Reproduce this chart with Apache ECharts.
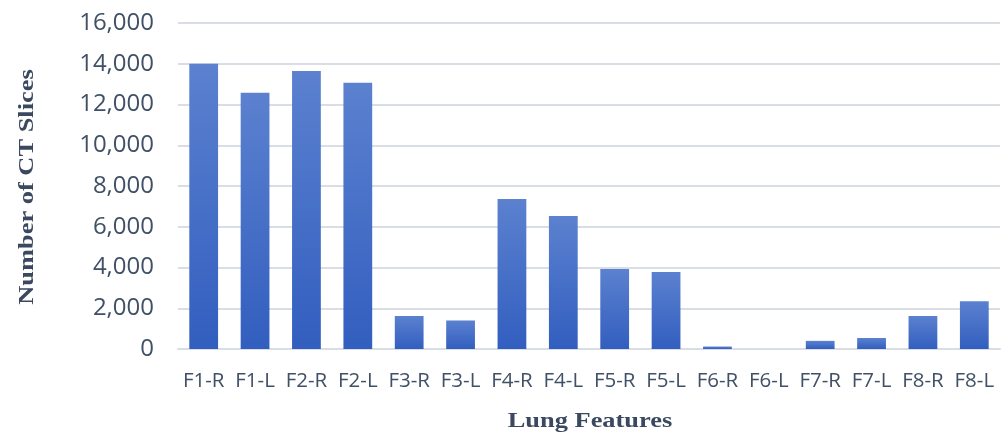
<!DOCTYPE html>
<html>
<head>
<meta charset="utf-8">
<script src="https://cdn.jsdelivr.net/npm/echarts@6/dist/echarts.min.js"></script>
<style>
  html, body { margin: 0; padding: 0; background: #ffffff; }
  #chart { width: 1008px; height: 437px; }
</style>
</head>
<body>
<div id="chart"></div>
<script>
// Lung feature categories (right / left lung)
const categories = ['F1-R', 'F1-L', 'F2-R', 'F2-L', 'F3-R', 'F3-L', 'F4-R', 'F4-L',
                    'F5-R', 'F5-L', 'F6-R', 'F6-L', 'F7-R', 'F7-L', 'F8-R', 'F8-L'];
// Number of CT slices per feature
const sliceCounts = [14000, 12580, 13640, 13070, 1620, 1400, 7360, 6530,
                     3930, 3780, 120, 0, 400, 540, 1620, 2340];
// Value axis range and tick step
const yMin = 0;
const yMax = 16000;
const yStep = 2000;

const xTitle = 'Lung Features';
const yTitle = 'Number of CT Slices';

const chart = echarts.init(document.getElementById('chart'), null, { renderer: 'canvas' });

const tickColor = '#405066';
const titleColor = '#3a4960';
const titleFont = 'bold 22px "Liberation Serif", "Times New Roman", serif';

chart.setOption({
  animation: false,
  backgroundColor: '#ffffff',
  grid: { left: 178, right: 8, top: 23, bottom: 88, containLabel: false },
  xAxis: {
    type: 'category',
    data: categories,
    axisLine: { show: true, lineStyle: { color: '#d9dde6', width: 2 } },
    axisTick: { show: false },
    axisLabel: {
      color: tickColor,
      fontFamily: '"Open Sans", sans-serif',
      fontSize: 20.5,
      margin: 22,
      interval: 0
    }
  },
  yAxis: {
    type: 'value',
    min: yMin,
    max: yMax,
    interval: yStep,
    axisLine: { show: false },
    axisTick: { show: false },
    splitLine: { lineStyle: { color: '#d9dde6', width: 2 } },
    axisLabel: {
      color: tickColor,
      fontFamily: '"Open Sans", sans-serif',
      fontSize: 24,
      margin: 24,
      formatter: v => v.toLocaleString('en-US')
    }
  },
  series: [{
    type: 'bar',
    data: sliceCounts,
    barWidth: '56%',
    itemStyle: {
      color: new echarts.graphic.LinearGradient(0, 0, 0, 1, [
        { offset: 0, color: '#5b81cf' },
        { offset: 1, color: '#325ebf' }
      ])
    }
  }],
  graphic: [
    {
      type: 'text',
      x: 590,
      y: 421,
      scaleX: 1.2,
      style: { text: xTitle, font: titleFont, fill: titleColor, align: 'center', verticalAlign: 'middle' }
    },
    {
      type: 'text',
      x: 27,
      y: 187,
      rotation: Math.PI / 2,
      scaleX: 1.2,
      style: { text: yTitle, font: titleFont, fill: titleColor, align: 'center', verticalAlign: 'middle' }
    }
  ]
});
</script>
</body>
</html>
